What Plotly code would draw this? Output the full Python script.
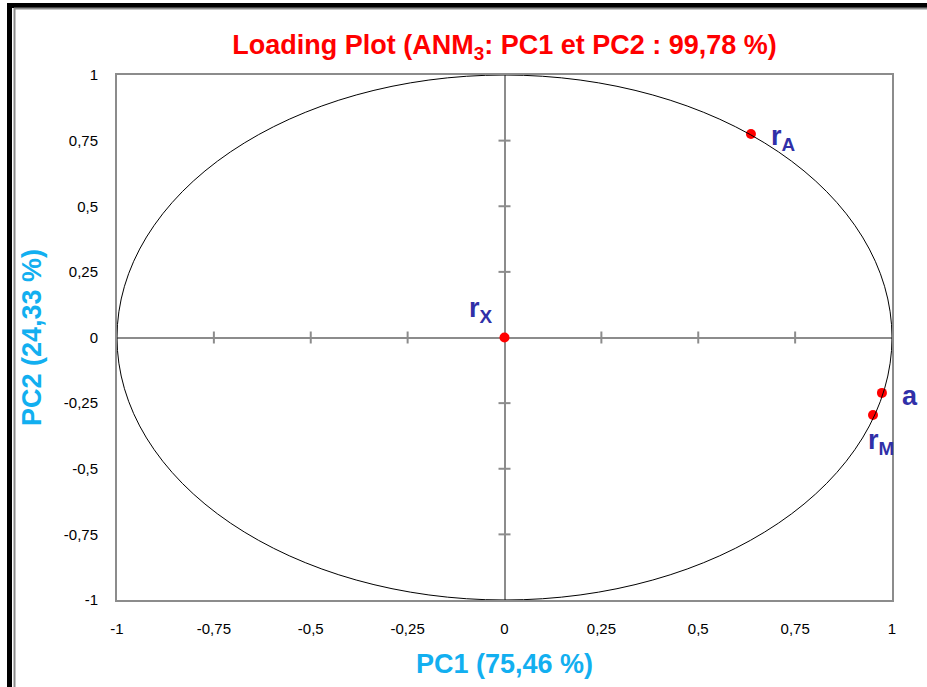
import plotly.graph_objects as go

# Data
var_names = ["r<sub>A</sub>", "a", "r<sub>M</sub>", "r<sub>X</sub>"]
pc1 = [0.636, 0.974, 0.951, 0.0]
pc2 = [0.775, -0.211, -0.295, 0.0]
tick_vals = [-1, -0.75, -0.5, -0.25, 0, 0.25, 0.5, 0.75, 1]
tick_text = ["-1", "-0,75", "-0,5", "-0,25", "0", "0,25", "0,5", "0,75", "1"]

# label offsets (pixels) per point
lab_dx = [33, 28, 8, -24]
lab_dy = [4, 3, 27, -28]

W, H = 927, 687
L, R, T, B = 117, 35, 75, 87
pw, ph = W - L - R, H - T - B

font_main = "Liberation Sans Narrow, Arial Narrow, sans-serif"
gray = "#8c8c8c"

fig = go.Figure()
fig.add_trace(go.Scatter(
    x=pc1, y=pc2, mode="markers",
    marker=dict(color="#ff0000", size=10),
    hoverinfo="skip", showlegend=False))

shapes = []
# unit circle
shapes.append(dict(type="circle", xref="x", yref="y", x0=-1, y0=-1, x1=1, y1=1,
                   line=dict(color="black", width=1), layer="above"))
# tick marks on zero lines
tx = 6 / (pw / 2)
ty = 6 / (ph / 2)
for v in tick_vals:
    if v in (-1, 1, 0):
        continue
    shapes.append(dict(type="line", xref="x", yref="y", x0=v, x1=v, y0=-ty, y1=ty,
                       line=dict(color=gray, width=2), layer="below"))
    shapes.append(dict(type="line", xref="x", yref="y", x0=-tx, x1=tx, y0=v, y1=v,
                       line=dict(color=gray, width=2), layer="below"))

# outer frame (black + gray) on left and top
def px2x(p):
    return (p - L) / pw
def py2y(p):
    return 1 - (p - T) / ph
shapes.append(dict(type="line", xref="paper", yref="paper",
                   x0=px2x(9.5), x1=px2x(9.5), y0=py2y(3), y1=py2y(H + 5),
                   line=dict(color="black", width=5)))
shapes.append(dict(type="line", xref="paper", yref="paper",
                   x0=px2x(7), x1=px2x(W + 5), y0=py2y(5.5), y1=py2y(5.5),
                   line=dict(color="black", width=5)))
shapes.append(dict(type="line", xref="paper", yref="paper",
                   x0=px2x(14.5), x1=px2x(14.5), y0=py2y(8), y1=py2y(H + 5),
                   line=dict(color=gray, width=2)))
shapes.append(dict(type="line", xref="paper", yref="paper",
                   x0=px2x(14), x1=px2x(W + 5), y0=py2y(8.5), y1=py2y(8.5),
                   line=dict(color=gray, width=2)))

annotations = []
for name, x, y, dx, dy in zip(var_names, pc1, pc2, lab_dx, lab_dy):
    annotations.append(dict(x=x, y=y, xref="x", yref="y", text="<b>" + name + "</b>",
                            showarrow=False, xshift=dx, yshift=-dy,
                            font=dict(family=font_main, size=27, color="#3030a8")))

fig.update_layout(
    width=W, height=H,
    margin=dict(l=L, r=R, t=T, b=B),
    paper_bgcolor="white", plot_bgcolor="white",
    shapes=shapes, annotations=annotations,
    title=dict(text="<b>Loading Plot (ANM<sub>3</sub>: PC1 et PC2 : 99,78 %)</b>",
               x=0.5, xanchor="center", xref="paper", y=1 - 45 / H, yanchor="middle",
               font=dict(family=font_main, size=27, color="#ff0000")),
    xaxis=dict(range=[-1, 1], tickvals=tick_vals, ticktext=tick_text,
               showgrid=False, zeroline=True, zerolinecolor=gray, zerolinewidth=2,
               showline=True, linecolor=gray, linewidth=2, mirror=True,
               ticks="", tickfont=dict(family="Liberation Sans Narrow, sans-serif", size=15, color="black"),
               ticklabelstandoff=14,
               title=dict(text="<b>PC1 (75,46 %)</b>", standoff=18,
                          font=dict(family=font_main, size=27, color="#12aff0"))),
    yaxis=dict(range=[-1, 1], tickvals=tick_vals, ticktext=tick_text,
               showgrid=False, zeroline=True, zerolinecolor=gray, zerolinewidth=2,
               showline=True, linecolor=gray, linewidth=2, mirror=True,
               ticks="", tickfont=dict(family="Liberation Sans Narrow, sans-serif", size=15, color="black"),
               ticklabelstandoff=14,
               title=dict(text="<b>PC2 (24,33 %)</b>", standoff=14,
                          font=dict(family=font_main, size=27, color="#12aff0"))),
)

fig.write_html("out.html")
